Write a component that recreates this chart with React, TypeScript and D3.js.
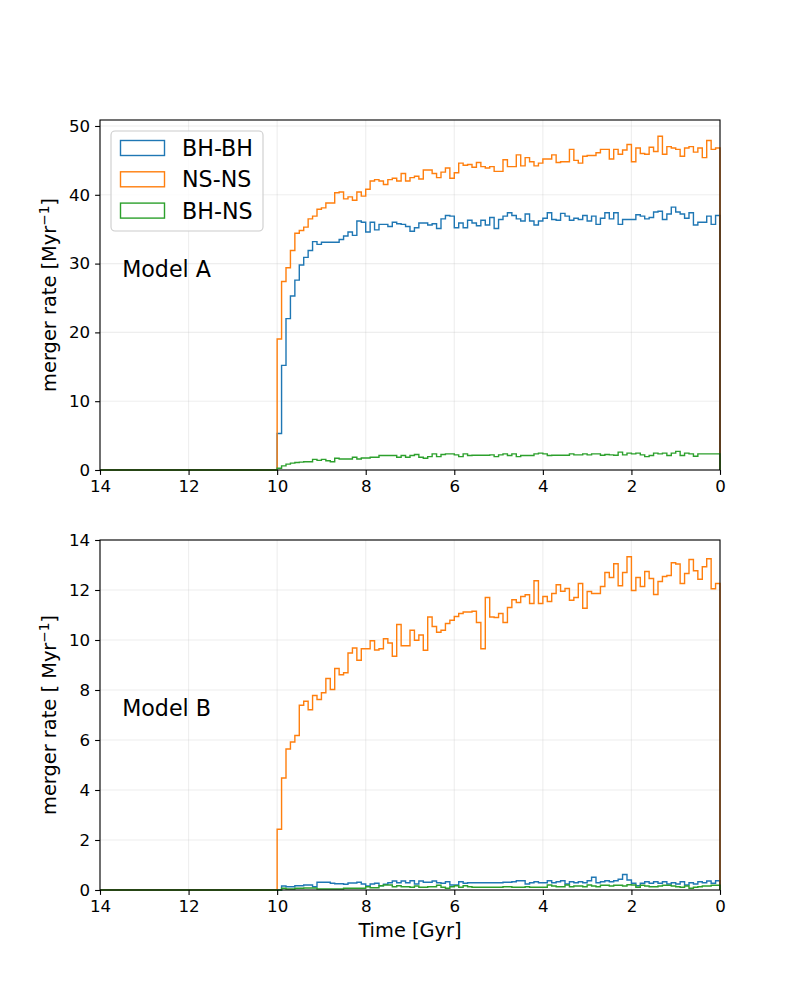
import React, { useEffect, useRef } from "react";
import * as d3 from "d3";

// merger rates per 0.1 Gyr bin, from t = 10 Gyr down to t = 0
const blueA = [
  5.3, 15.2, 22.0, 25.3, 27.6, 29.8, 30.9, 31.9, 33.2, 32.8,
  33.1, 33.1, 33.1, 33.1, 33.5, 34.0, 34.6, 34.1, 36.2, 36.0,
  34.6, 36.0, 34.9, 35.7, 35.7, 35.4, 36.0, 35.8, 35.7, 35.4,
  34.7, 35.2, 35.9, 35.9, 35.6, 35.8, 35.1, 36.5, 37.0, 36.9,
  35.2, 35.9, 35.2, 36.3, 35.9, 35.5, 36.3, 35.6, 36.7, 35.1,
  36.4, 36.9, 37.4, 37.0, 36.5, 36.2, 37.2, 36.2, 35.6, 36.2,
  36.6, 37.4, 36.4, 36.3, 37.3, 36.9, 36.3, 36.6, 36.4, 37.0,
  36.2, 36.9, 35.7, 36.6, 37.4, 36.5, 37.4, 35.7, 36.4, 36.4,
  36.4, 37.1, 36.9, 36.5, 36.7, 37.5, 37.6, 36.4, 37.2, 38.2,
  37.5, 37.2, 36.6, 37.4, 35.6, 36.0, 36.0, 36.9, 35.7, 37.0,
];
const orangeA = [
  19.05, 27.4, 29.4, 31.9, 34.4, 34.8, 35.3, 36.5, 36.9, 37.9,
  38.1, 38.8, 38.8, 40.3, 40.4, 39.4, 39.7, 39.2, 40.4, 39.8,
  40.8, 42.0, 42.2, 42.0, 41.5, 42.2, 42.4, 42.0, 43.1, 42.0,
  42.5, 42.7, 42.3, 43.6, 43.6, 43.1, 42.5, 43.3, 43.9, 42.4,
  43.2, 44.6, 44.3, 44.4, 44.0, 44.7, 44.1, 43.9, 44.1, 43.4,
  43.4, 45.1, 44.1, 44.1, 45.8, 44.2, 45.4, 44.8, 44.2, 44.6,
  45.2, 45.2, 45.8, 44.7, 44.8, 44.8, 46.6, 45.0, 44.6, 45.6,
  45.7, 45.7, 46.1, 46.6, 46.6, 45.2, 46.6, 45.9, 46.5, 47.3,
  44.8, 46.8, 46.0, 45.9, 46.9, 46.3, 48.5, 45.9, 47.0, 46.8,
  46.6, 45.6, 46.8, 47.0, 46.2, 46.8, 45.4, 47.9, 46.6, 46.8,
];
const greenA = [
  0.25, 0.6, 0.85, 1.0, 1.1, 1.15, 1.2, 1.2, 1.55, 1.4,
  1.55, 1.35, 1.2, 1.7, 1.6, 1.6, 1.6, 1.85, 1.6, 1.75,
  1.75, 1.85, 1.85, 2.1, 2.1, 2.1, 2.1, 1.85, 2.1, 1.85,
  2.1, 2.25, 1.85, 1.7, 1.95, 2.35, 1.95, 2.25, 2.35, 2.35,
  2.2, 1.95, 2.35, 2.1, 2.15, 2.15, 2.15, 2.15, 2.2, 1.95,
  2.2, 2.35, 2.1, 2.35, 1.95, 2.1, 2.1, 2.1, 2.35, 2.45,
  2.35, 2.1, 2.15, 2.15, 2.15, 2.15, 2.35, 2.2, 2.2, 2.35,
  2.2, 2.35, 2.35, 2.15, 2.25, 2.2, 2.15, 2.6, 2.2, 2.45,
  2.35, 2.45, 2.2, 1.95, 2.1, 2.45, 2.35, 2.45, 2.1, 2.45,
  2.7, 2.1, 2.45, 2.35, 2.0, 2.35, 2.35, 2.35, 2.35, 2.35,
];

const blueB = [
  0, 0.16, 0.13, 0.13, 0.17, 0.17, 0.2, 0.2, 0.13, 0.31,
  0.31, 0.31, 0.27, 0.25, 0.25, 0.23, 0.28, 0.28, 0.31, 0.24,
  0.16, 0.24, 0.27, 0.17, 0.23, 0.29, 0.36, 0.29, 0.36, 0.29,
  0.37, 0.24, 0.36, 0.31, 0.31, 0.36, 0.29, 0.27, 0.33, 0.2,
  0.2, 0.33, 0.27, 0.29, 0.29, 0.29, 0.29, 0.29, 0.29, 0.29,
  0.29, 0.31, 0.31, 0.33, 0.37, 0.37, 0.24, 0.29, 0.33, 0.29,
  0.29, 0.37, 0.29, 0.33, 0.37, 0.24, 0.33, 0.29, 0.33, 0.29,
  0.37, 0.51, 0.29, 0.33, 0.37, 0.33, 0.37, 0.43, 0.62, 0.4,
  0.27, 0.17, 0.27, 0.33, 0.27, 0.33, 0.27, 0.33, 0.24, 0.29,
  0.24, 0.33, 0.2, 0.29, 0.24, 0.33, 0.29, 0.36, 0.27, 0.37,
];
const orangeB = [
  2.43, 4.48, 5.64, 5.92, 6.18, 7.39, 7.55, 7.21, 7.78, 7.62,
  7.89, 8.46, 8.02, 8.86, 8.61, 8.69, 9.48, 9.68, 9.19, 9.65,
  9.65, 9.97, 9.6, 9.65, 10.05, 9.88, 9.35, 10.62, 9.77, 9.77,
  10.39, 9.99, 10.2, 9.59, 10.92, 10.54, 10.31, 10.39, 10.66, 10.79,
  10.94, 11.06, 11.12, 11.12, 11.15, 10.7, 9.65, 11.7, 10.92, 10.9,
  11.06, 10.7, 11.3, 11.61, 11.5, 11.74, 11.81, 11.46, 12.37, 11.46,
  11.74, 11.54, 11.86, 12.21, 11.95, 12.06, 11.59, 11.7, 12.26, 11.27,
  11.94, 11.86, 11.86, 12.14, 12.7, 12.5, 13.05, 12.17, 12.7, 13.33,
  11.98, 12.5, 12.14, 12.74, 12.46, 11.82, 12.34, 12.54, 12.58, 13.09,
  13.04, 12.26, 12.66, 13.22, 12.77, 12.43, 12.93, 13.25, 12.05, 12.26,
];
const greenB = [
  0, 0.07, 0.04, 0.04, 0.07, 0.07, 0.08, 0.08, 0.08, 0.04,
  0.04, 0.04, 0.04, 0.04, 0.04, 0.07, 0.07, 0.07, 0.07, 0.07,
  0.13, 0.09, 0.09, 0.17, 0.2, 0.2, 0.13, 0.17, 0.13, 0.13,
  0.11, 0.16, 0.11, 0.11, 0.13, 0.13, 0.19, 0.11, 0.07, 0.13,
  0.17, 0.11, 0.17, 0.13, 0.11, 0.11, 0.11, 0.11, 0.11, 0.11,
  0.11, 0.13, 0.13, 0.11, 0.11, 0.11, 0.13, 0.11, 0.11, 0.11,
  0.11, 0.2, 0.16, 0.13, 0.13, 0.2, 0.13, 0.16, 0.16, 0.13,
  0.2, 0.16, 0.13, 0.19, 0.19, 0.16, 0.19, 0.19, 0.16, 0.21,
  0.2, 0.11, 0.19, 0.16, 0.13, 0.13, 0.16, 0.19, 0.19, 0.16,
  0.13, 0.11, 0.16, 0.07, 0.11, 0.13, 0.16, 0.16, 0.19, 0.19,
];

const labels = ["BH-BH", "NS-NS", "BH-NS"];
const colors = ["#1f77b4", "#ff7f0e", "#2ca02c"];
const xTicks = [14, 12, 10, 8, 6, 4, 2, 0];
const yTicksA = [0, 10, 20, 30, 40, 50];
const yTicksB = [0, 2, 4, 6, 8, 10, 12, 14];

const font = "DejaVu Sans, sans-serif";

export default function App() {
  const svgRef = useRef<SVGSVGElement>(null);

  useEffect(() => {
    if (!svgRef.current) return;
    const svg = d3.select(svgRef.current);
    svg.selectAll("*").remove();

    const width = 800;
    const height = 1000;
    const left = 100;
    const right = 720;
    const edges = d3.range(101).map((i) => 10 - i * 0.1);

    const panels = [
      { top: 120, bottom: 470, ymax: 50.87, yTicks: yTicksA, series: [blueA, orangeA, greenA], model: "Model A", mx: 13.5, my: 28, yl: "merger rate [Myr", legend: true, xlabel: false },
      { top: 540, bottom: 890, ymax: 14, yTicks: yTicksB, series: [blueB, orangeB, greenB], model: "Model B", mx: 13.5, my: 6.95, yl: "merger rate [ Myr", legend: false, xlabel: true },
    ];

    const x = d3.scaleLinear().domain([14, 0]).range([left, right]);

    panels.forEach((p) => {
      const y = d3.scaleLinear().domain([0, p.ymax]).range([p.bottom, p.top]);
      const g = svg.append("g");

      // grid
      xTicks.forEach((t) => {
        g.append("line")
          .attr("x1", x(t)).attr("x2", x(t))
          .attr("y1", p.top).attr("y2", p.bottom)
          .style("stroke", "#b0b0b0").style("stroke-width", 1.1).style("opacity", 0.2);
      });
      p.yTicks.forEach((t) => {
        g.append("line")
          .attr("x1", left).attr("x2", right)
          .attr("y1", y(t)).attr("y2", y(t))
          .style("stroke", "#b0b0b0").style("stroke-width", 1.1).style("opacity", 0.2);
      });

      const line = d3.line<[number, number]>()
        .x((d) => x(d[0]))
        .y((d) => y(d[1]))
        .curve(d3.curveStepAfter);

      p.series.forEach((vals, si) => {
        const pts: [number, number][] = [[14, 0]];
        vals.forEach((v, i) => pts.push([edges[i], v]));
        pts.push([edges[vals.length], vals[vals.length - 1]]);
        pts.push([0, 0]);
        g.append("path")
          .attr("d", line(pts))
          .style("fill", "none")
          .style("stroke", colors[si])
          .style("stroke-width", 1.4);
      });

      // axes
      const xAxis = d3.axisBottom(x).tickValues(xTicks).tickSize(4.9).tickPadding(4.9).tickFormat(d3.format("d"));
      const yAxis = d3.axisLeft(y).tickValues(p.yTicks).tickSize(4.9).tickPadding(4.9).tickFormat(d3.format("d"));
      const gx = g.append("g").attr("transform", `translate(0,${p.bottom})`).call(xAxis);
      const gy = g.append("g").attr("transform", `translate(${left},0)`).call(yAxis);
      [gx, gy].forEach((ax) => {
        ax.select(".domain").remove();
        ax.selectAll(".tick line").style("stroke", "#000").style("stroke-width", 1.1);
        ax.selectAll(".tick text").style("font-family", font).style("font-size", "16.67px").style("fill", "#000");
      });

      // frame
      g.append("rect")
        .attr("x", left).attr("y", p.top)
        .attr("width", right - left).attr("height", p.bottom - p.top)
        .style("fill", "none").style("stroke", "#000").style("stroke-width", 1.1);

      // model text
      g.append("text")
        .attr("x", x(p.mx)).attr("y", y(p.my))
        .text(p.model)
        .style("font-family", font).style("font-size", "22.2px");

      // y label
      const cy = (p.top + p.bottom) / 2;
      const yl = g.append("text")
        .attr("transform", `translate(56,${cy}) rotate(-90)`)
        .attr("text-anchor", "middle")
        .style("font-family", font).style("font-size", "19.4px");
      yl.append("tspan").text(p.yl);
      yl.append("tspan").attr("dy", -7).style("font-size", "13.6px").text("\u22121");
      yl.append("tspan").attr("dy", 7).text("]");

      if (p.xlabel) {
        g.append("text")
          .attr("x", (left + right) / 2).attr("y", 937)
          .attr("text-anchor", "middle")
          .text("Time [Gyr]")
          .style("font-family", font).style("font-size", "19.4px");
      }

      if (p.legend) {
        const lg = g.append("g");
        lg.append("rect")
          .attr("x", 111).attr("y", 131).attr("width", 152).attr("height", 100).attr("rx", 4)
          .style("fill", "#fff").style("fill-opacity", 0.8)
          .style("stroke", "#cccccc").style("stroke-width", 1.1);
        labels.forEach((lab, i) => {
          const cyRow = 148 + i * 31.3;
          lg.append("rect")
            .attr("x", 120.5).attr("y", cyRow - 7.5).attr("width", 44).attr("height", 15)
            .style("fill", "none").style("stroke", colors[i]).style("stroke-width", 1.4);
          lg.append("text")
            .attr("x", 182).attr("y", cyRow + 8)
            .text(lab)
            .style("font-family", font).style("font-size", "22.2px");
        });
      }
    });

    svg.attr("width", width).attr("height", height);
  }, []);

  return (
    <svg
      ref={svgRef}
      width={800}
      height={1000}
      style={{ position: "absolute", left: 0, top: 0, background: "#fff" }}
    />
  );
}
